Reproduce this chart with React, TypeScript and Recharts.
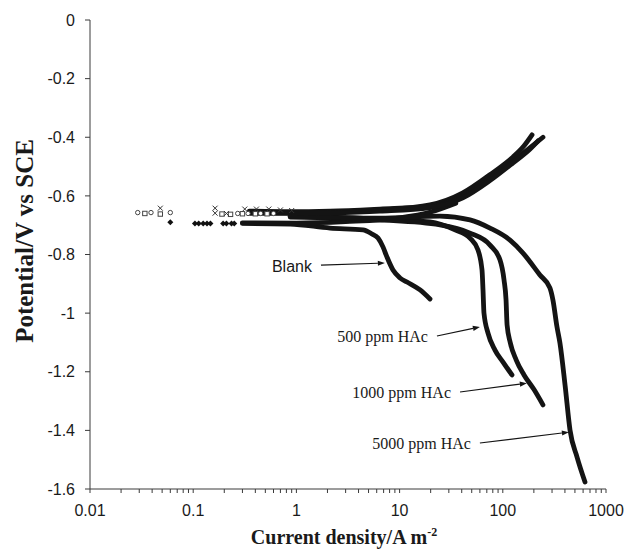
import {
  ComposedChart,
  Line,
  Scatter,
  XAxis,
  YAxis,
  ReferenceLine,
  Label,
} from 'recharts';

type Pt = { i: number; E: number };
const pts = (rows: number[][]): Pt[] => rows.map(([i, E]) => ({ i, E }));

// sparse markers near the corrosion potential
const circleMarks = [[0.029, -0.657], [0.039, -0.657], [0.06, -0.657], [0.27, -0.66], [0.34, -0.66], [0.45, -0.66], [0.6, -0.66]];
const squareMarks = [[0.034, -0.66], [0.048, -0.662], [0.19, -0.662], [0.23, -0.663], [0.3, -0.661], [0.4, -0.661], [0.52, -0.661]];
const crossMarks = [[0.048, -0.642], [0.163, -0.642], [0.163, -0.659], [0.21, -0.66], [0.316, -0.645], [0.41, -0.645], [0.54, -0.645], [0.7, -0.648], [0.9, -0.65]];
const diamondMarks = [[0.06, -0.69], [0.104, -0.694], [0.113, -0.694], [0.125, -0.694], [0.136, -0.694], [0.147, -0.694], [0.195, -0.694], [0.21, -0.694], [0.235, -0.694], [0.25, -0.694]];

// dense branches (current density A m-2, potential V vs SCE)
const blankCathodic = [[0.3, -0.694], [0.87, -0.696], [2.12, -0.71], [4.42, -0.716], [5.4, -0.73], [6.18, -0.744], [6.9, -0.774], [7.55, -0.809], [8.63, -0.853], [10.1, -0.88], [11.8, -0.894], [15.8, -0.921], [19.7, -0.952]];
const blankAnodic = [[0.3, -0.692], [1, -0.693], [3, -0.688], [10, -0.675], [20, -0.655], [35, -0.625]];
const cath500 = [[0.87, -0.669], [6.46, -0.679], [19.7, -0.689], [34.4, -0.716], [48.1, -0.744], [57.5, -0.785], [62.9, -0.853], [64.3, -0.921], [65.7, -1.0], [71.9, -1.068], [84, -1.126], [100.5, -1.167], [122.7, -1.211]];
const cath1000 = [[0.87, -0.672], [6.46, -0.682], [24.6, -0.699], [48.1, -0.727], [75.2, -0.768], [94, -0.819], [102.8, -0.887], [107.5, -0.955], [110, -1.04], [118, -1.1], [135, -1.16], [160, -1.21], [200, -1.26], [245, -1.313]];
const cath5000 = [[0.87, -0.669], [6.46, -0.676], [24.6, -0.669], [48.1, -0.682], [75.2, -0.71], [117.5, -0.751], [157, -0.795], [229, -0.87], [286, -0.914], [306, -0.955], [335, -1.047], [358, -1.102], [401, -1.245], [448, -1.399], [524, -1.491], [626, -1.576]];
const anod500 = [[0.35, -0.657], [0.87, -0.658], [2.12, -0.655], [6.46, -0.648], [19.7, -0.631], [41, -0.59], [75, -0.528], [125, -0.468], [160, -0.43], [192, -0.392]];
const anod1000 = [[0.35, -0.652], [0.87, -0.654], [2.12, -0.652], [6.46, -0.645], [19.7, -0.636], [41, -0.6], [75, -0.54], [125, -0.482], [184, -0.435], [245, -0.4]];
const anod5000 = [[0.35, -0.66], [0.87, -0.66], [2.12, -0.658], [6.46, -0.652], [19.7, -0.64], [41, -0.607], [75, -0.548], [125, -0.488], [184, -0.44], [220, -0.412]];

// annotations
const annotationLabels = ['Blank', '500 ppm HAc', '1000 ppm HAc', '5000 ppm HAc'];
const annotationFonts = ['Liberation Sans, Arial, sans-serif', 'Liberation Serif, Times New Roman, serif', 'Liberation Serif, Times New Roman, serif', 'Liberation Serif, Times New Roman, serif'];
const arrowFrom = [[1.73, -0.836], [23, -1.078], [38.5, -1.269], [60, -1.443]];
const arrowTo = [[7.2, -0.829], [60, -1.047], [171, -1.239], [437, -1.406]];

const yTicks = [0, -0.2, -0.4, -0.6, -0.8, -1, -1.2, -1.4, -1.6];
const decades = [0.01, 0.1, 1, 10, 100];
const xTicks: number[] = [];
decades.forEach((d) => {
  for (let m = 1; m <= 9; m++) xTicks.push(Number((d * m).toPrecision(3)));
});
xTicks.push(1000);

const isMajor = (v: number) => Math.abs(Math.log10(v) - Math.round(Math.log10(v))) < 1e-9;

const INK = '#141414';
const AXIS = '#3a3a3a';
const SANS = 'Liberation Sans, Arial, sans-serif';
const SERIF = 'Liberation Serif, Times New Roman, serif';

const branches = [blankCathodic, blankAnodic, cath500, cath1000, cath5000, anod500, anod1000, anod5000];

function Arrow(props: any, idx: number) {
  const { x1, y1, x2, y2 } = props;
  if ([x1, y1, x2, y2].some((v) => typeof v !== 'number' || isNaN(v))) return <g />;
  const ang = Math.atan2(y2 - y1, x2 - x1);
  const L = 7;
  const W = 2.6;
  const bx = x2 - L * Math.cos(ang);
  const by = y2 - L * Math.sin(ang);
  const px = -Math.sin(ang) * W;
  const py = Math.cos(ang) * W;
  return (
    <g>
      <line x1={x1} y1={y1} x2={bx} y2={by} stroke={INK} strokeWidth={1.2} />
      <polygon points={`${x2},${y2} ${bx + px},${by + py} ${bx - px},${by - py}`} fill={INK} />
      <text
        x={x1 - 9}
        y={y1 + 1}
        textAnchor="end"
        dominantBaseline="central"
        fontFamily={annotationFonts[idx]}
        fontSize={16}
        fill="#1a1a1a"
      >
        {annotationLabels[idx]}
      </text>
    </g>
  );
}

export default function App() {
  return (
    <div style={{ position: 'absolute', left: 0, top: 0, background: '#fff' }}>
      <ComposedChart width={626} height={549} margin={{ top: 20, right: 20, bottom: 0, left: 0 }}>
        <XAxis
          dataKey="i"
          type="number"
          scale="log"
          domain={[0.01, 1000]}
          allowDataOverflow
          ticks={xTicks}
          interval={0}
          tickFormatter={(v: number) => (isMajor(v) ? String(v) : '')}
          height={60}
          tickSize={4}
          tickMargin={12}
          stroke={AXIS}
          tick={{ fontSize: 16, fontFamily: SANS, fill: '#1a1a1a' }}
        >
          <Label
            content={(p: any) => {
              const vb = p.viewBox;
              return (
                <text
                  x={vb.x + vb.width / 2 - 4}
                  y={vb.y + 55}
                  textAnchor="middle"
                  fontFamily={SERIF}
                  fontWeight="bold"
                  fontSize={20}
                  fill="#1a1a1a"
                >
                  Current density/A m
                  <tspan fontSize={12} dy={-8}>-2</tspan>
                </text>
              );
            }}
          />
        </XAxis>
        <YAxis
          dataKey="E"
          type="number"
          domain={[-1.6, 0]}
          ticks={yTicks}
          interval={0}
          width={90}
          tickSize={5}
          tickMargin={10}
          stroke={AXIS}
          tickFormatter={(v: number) => String(Number(v.toFixed(1)))}
          tick={{ fontSize: 16, fontFamily: SANS, fill: '#1a1a1a' }}
        >
          <Label
            content={() => (
              <text
                x={0}
                y={0}
                transform="translate(33,241) rotate(-90)"
                textAnchor="middle"
                fontFamily={SERIF}
                fontWeight="bold"
                fontSize={25}
                fill="#1a1a1a"
              >
                Potential/V vs SCE
              </text>
            )}
          />
        </YAxis>

        {branches.map((b, k) => (
          <Line
            key={k}
            data={pts(b)}
            dataKey="E"
            type="monotone"
            stroke={INK}
            strokeWidth={4.8}
            strokeLinecap="round"
            strokeLinejoin="round"
            dot={false}
            activeDot={false}
            isAnimationActive={false}
          />
        ))}

        <Scatter
          data={pts(circleMarks)}
          dataKey="E"
          isAnimationActive={false}
          shape={(p: any) => <circle cx={p.cx} cy={p.cy} r={2.2} fill="#fff" stroke="#444" strokeWidth={1} />}
        />
        <Scatter
          data={pts(squareMarks)}
          dataKey="E"
          isAnimationActive={false}
          shape={(p: any) => <rect x={p.cx - 2.2} y={p.cy - 2.2} width={4.4} height={4.4} fill="#fff" stroke="#444" strokeWidth={1} />}
        />
        <Scatter
          data={pts(crossMarks)}
          dataKey="E"
          isAnimationActive={false}
          shape={(p: any) => (
            <path d={`M${p.cx - 2.5},${p.cy - 2.5}L${p.cx + 2.5},${p.cy + 2.5}M${p.cx + 2.5},${p.cy - 2.5}L${p.cx - 2.5},${p.cy + 2.5}`} stroke="#333" strokeWidth={1} />
          )}
        />
        <Scatter
          data={pts(diamondMarks)}
          dataKey="E"
          isAnimationActive={false}
          shape={(p: any) => (
            <path d={`M${p.cx},${p.cy - 3}L${p.cx + 3},${p.cy}L${p.cx},${p.cy + 3}L${p.cx - 3},${p.cy}Z`} fill="#111" />
          )}
        />

        {annotationLabels.map((_, k) => (
          <ReferenceLine
            key={`a${k}`}
            segment={[
              { x: arrowFrom[k][0], y: arrowFrom[k][1] },
              { x: arrowTo[k][0], y: arrowTo[k][1] },
            ]}
            ifOverflow="visible"
            shape={(p: any) => Arrow(p, k)}
          />
        ))}
      </ComposedChart>
    </div>
  );
}
